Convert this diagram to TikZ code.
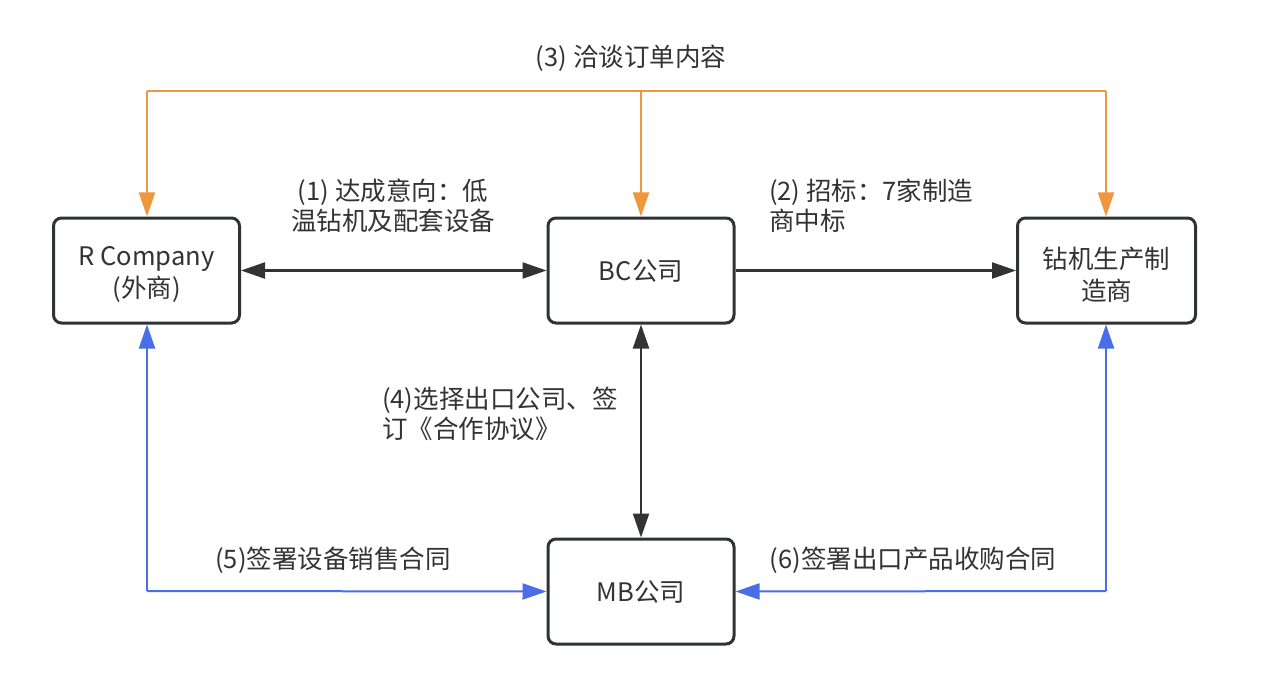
\documentclass[tikz,border=0pt]{standalone}
\usepackage{fontspec}
\setmainfont{Noto Sans CJK SC}
\usetikzlibrary{arrows.meta}
\definecolor{boxc}{HTML}{2F3236}
\definecolor{txt}{HTML}{333333}
\definecolor{org}{HTML}{F0963C}
\definecolor{blu}{HTML}{4A6EE8}
\definecolor{blk}{HTML}{333333}
\newcommand{\dn}[1]{\raisebox{-4pt}[\height][\depth]{#1}}
\tikzset{
  box/.style={draw=boxc, line width=3pt, rounded corners=8pt, minimum width=186pt, minimum height=105pt, align=center, text=txt, font=\fontsize{25.5}{32}\selectfont, inner sep=0pt},
  lbl/.style={text=txt, font=\fontsize{25.5}{30}\selectfont, inner sep=0pt},
  tip/.style={-{Triangle[length=24pt,width=16pt]}},
  blkline/.style={draw=blk, line width=2.3pt},
  orgline/.style={draw=org, line width=2pt},
  bluline/.style={draw=blu, line width=2pt},
}
\begin{document}
\begin{tikzpicture}[x=1pt,y=-1pt]
\useasboundingbox[fill=white] (0,0) rectangle (1263,687);
\node[box] (R) at (146.5,270.5) {\dn{R Company}\\\dn{(外商)}};
\node[box] (BC) at (641,270.5) {BC公司};
\node[box, minimum width=178pt] (Z) at (1106.5,270.5) {\dn{钻机生产制}\\\dn{造商}};
\node[box] (MB) at (641,591.5) {MB公司};

% orange
\coordinate (oL) at (147,91);
\coordinate (oM) at (641,91);
\coordinate (oR) at (1106,91);
\draw[orgline] (oL) -- (oR);
\draw[orgline, tip, org] (oL) -- (R.north -| oL);
\draw[orgline, tip, org] (oM) -- (BC.north);
\draw[orgline, tip, org] (oR) -- (Z.north -| oR);
\node[lbl] (l3) at (631,58) {(3) 洽谈订单内容};

% black
\draw[blkline, {Triangle[length=24pt,width=16pt]}-{Triangle[length=24pt,width=16pt]}, blk] (R.east) -- (BC.west);
\draw[blkline, tip, blk] (BC.east) -- (Z.west);
\draw[blkline, {Triangle[length=24pt,width=16pt]}-{Triangle[length=24pt,width=16pt]}, blk] (BC.south) -- (MB.north);
\node[lbl, align=center] (l1) at (393,206) {(1) 达成意向：低\\温钻机及配套设备};
\node[lbl, align=left, anchor=west] (l2) at (769,206) {(2) 招标：7家制造\\商中标};
\node[lbl, align=left, anchor=west] (l4) at (382,414) {(4)选择出口公司、签\\订《合作协议》};

% blue
\coordinate (bL) at (147,591);
\coordinate (bR) at (1106,591);
\draw[bluline, tip, blu] (bL) -- (R.south -| bL);
\draw[bluline, tip, blu] (bL) -- (MB.west);
\draw[bluline, tip, blu] (bR) -- (Z.south -| bR);
\draw[bluline, tip, blu] (bR) -- (MB.east);
\node[lbl] (l5) at (333,560) {(5)签署设备销售合同};
\node[lbl] (l6) at (913,560) {(6)签署出口产品收购合同};
\end{tikzpicture}
\end{document}
